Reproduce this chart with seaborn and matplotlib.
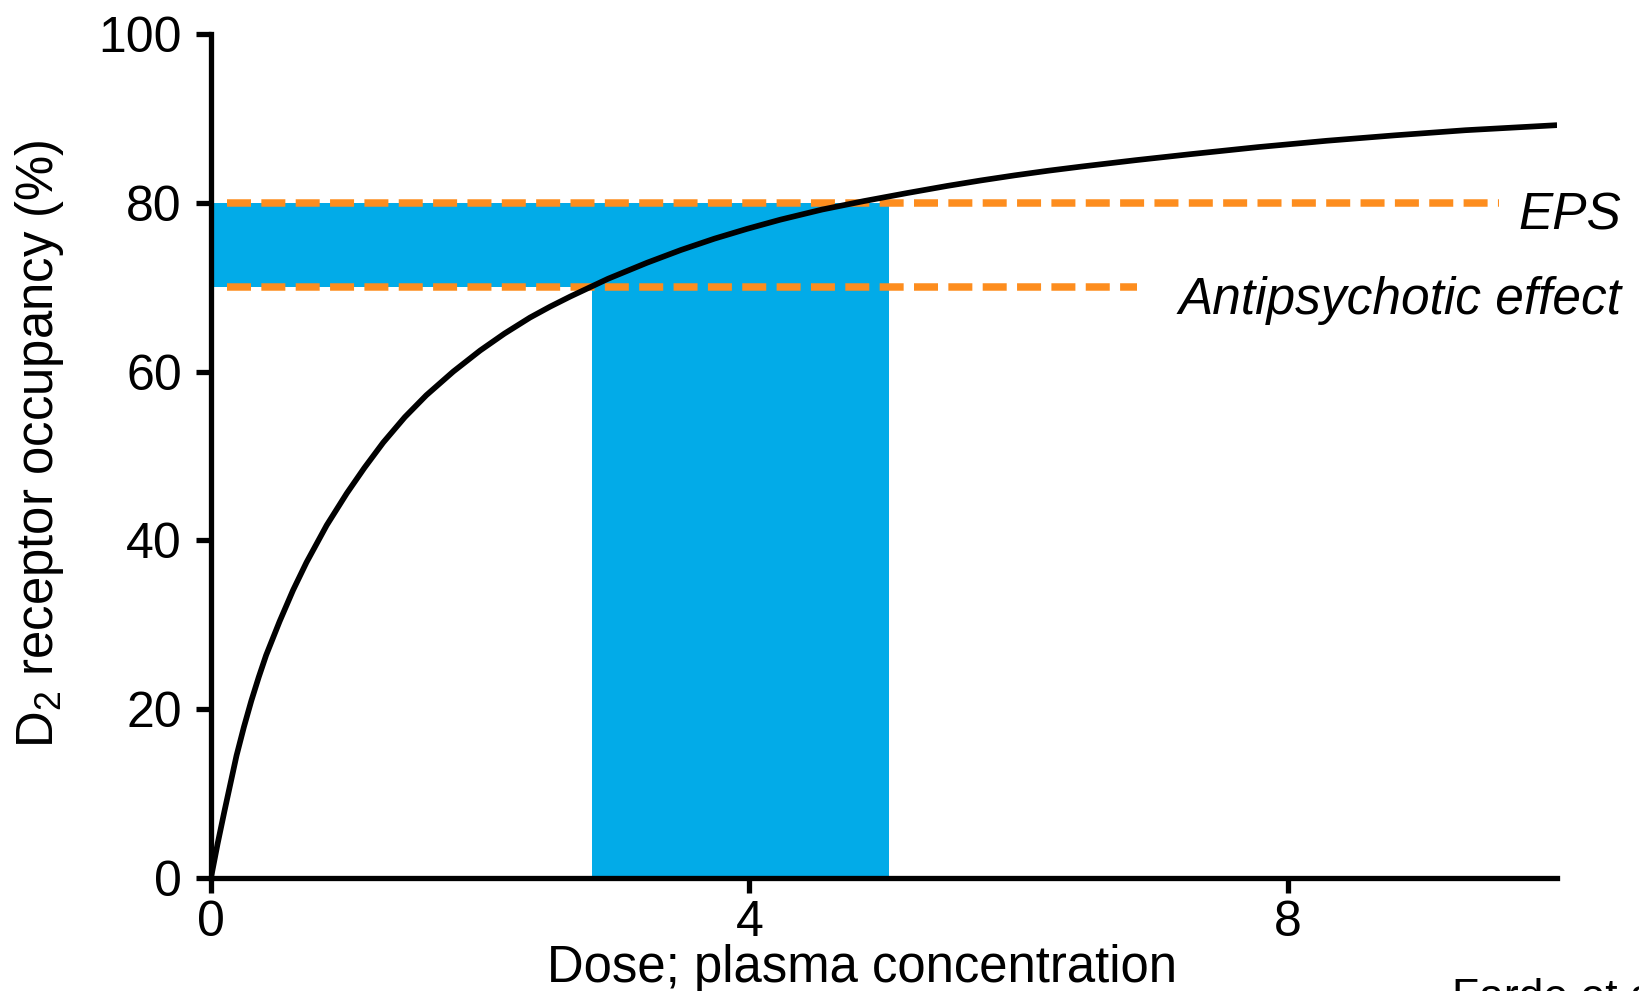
import matplotlib
matplotlib.use("Agg")
import matplotlib.pyplot as plt
import seaborn as sns
import pandas as pd

# ---- data ----
dose = [0, 0.05, 0.10, 0.145, 0.19, 0.245, 0.30, 0.355, 0.41, 0.46, 0.51, 0.61,
        0.71, 0.86, 1.01, 1.14, 1.28, 1.44, 1.60, 1.80, 2.00, 2.18, 2.37, 2.52,
        2.67, 2.95, 3.24, 3.49, 3.74, 3.98, 4.23, 4.54, 4.85, 5.17, 5.47, 5.72,
        5.97, 6.22, 6.47, 6.87, 7.27, 7.78, 8.29, 8.80, 9.32, 10.0]
occupancy = [0, 4.1, 7.9, 11.2, 14.5, 17.9, 21.0, 23.8, 26.4, 28.4, 30.4, 34.1,
             37.4, 41.8, 45.6, 48.6, 51.6, 54.6, 57.2, 60.0, 62.5, 64.5, 66.4, 67.7,
             68.9, 71.0, 72.9, 74.4, 75.75, 76.9, 78.0, 79.2, 80.2, 81.15, 82.0, 82.65,
             83.25, 83.8, 84.3, 85.05, 85.75, 86.6, 87.35, 88.0, 88.6, 89.2]

thresholds = [80, 70]
threshold_labels = ["EPS", "Antipsychotic effect"]
threshold_x_start = [0.12, 0.12]
threshold_x_end = [9.57, 6.88]

# therapeutic window (shaded)
band_y = [70, 80]           # horizontal band between thresholds
band_x = [0, 5.04]
window_x = [2.83, 5.04]     # dose window
window_y_top = 80

x_ticks = [0, 4, 8]
y_ticks = [0, 20, 40, 60, 80, 100]

BLUE = "#02ABE8"
ORANGE = "#FD8D1E"

sns.set_style("ticks")
plt.rcParams["font.family"] = ["Liberation Sans", "DejaVu Sans"]
plt.rcParams["mathtext.fontset"] = "custom"
plt.rcParams["mathtext.rm"] = "Liberation Sans"
plt.rcParams["mathtext.it"] = "Liberation Sans:italic"
plt.rcParams["text.color"] = "black"
plt.rcParams["axes.labelcolor"] = "black"
plt.rcParams["xtick.color"] = "black"
plt.rcParams["ytick.color"] = "black"

fig = plt.figure(figsize=(16.39, 9.91), dpi=100)
ax = fig.add_axes([0.1287, 0.1140, 0.8213, 0.8517])

# shaded areas
ax.fill_between(band_x, [band_y[0]] * 2, [band_y[1]] * 2, color=BLUE, lw=0, zorder=1)
ax.fill_between(window_x, [0, 0], [window_y_top] * 2, color=BLUE, lw=0, zorder=1)

# threshold dashed lines
for yv, x0, x1 in zip(thresholds, threshold_x_start, threshold_x_end):
    df_t = pd.DataFrame({"x": [x0, x1], "y": [yv, yv]})
    sns.lineplot(data=df_t, x="x", y="y", ax=ax, color=ORANGE, zorder=2)
    ln = ax.lines[-1]
    ln.set_linewidth(5.4)
    ln.set_dashes((3.2, 1.38))

# occupancy curve
df = pd.DataFrame({"dose": dose, "occ": occupancy})
sns.lineplot(data=df, x="dose", y="occ", ax=ax, color="black", zorder=3)
cl = ax.lines[-1]
cl.set_linewidth(4.1)
cl.set_solid_joinstyle("round")
cl.set_solid_capstyle("butt")

# labels for thresholds
for yv, lab in zip(thresholds, threshold_labels):
    ax.text(10.48, yv - 3.2, lab, ha="right", va="baseline", fontsize=37,
            style="italic", color="black", clip_on=False)

ax.set_xlim(0, 10)
ax.set_ylim(0, 100)
ax.set_xticks(x_ticks)
ax.set_yticks(y_ticks)
ax.set_xticklabels([str(t) for t in x_ticks])
ax.set_yticklabels([str(t) for t in y_ticks])

for side in ["top", "right"]:
    ax.spines[side].set_visible(False)
for side in ["left", "bottom"]:
    ax.spines[side].set_linewidth(3.8)
    ax.spines[side].set_color("black")
    ax.spines[side].set_zorder(5)

ax.tick_params(axis="both", which="major", length=11, width=3.8, color="black",
               labelcolor="black", labelsize=36, direction="out")
ax.tick_params(axis="y", pad=10)
ax.tick_params(axis="x", pad=5)

ax.set_xlabel("Dose; plasma concentration", fontsize=36.6, color="black")
ax.set_ylabel("D$_2$ receptor occupancy (%)", fontsize=36.6, color="black")
ax.xaxis.set_label_coords(0.4837, -0.078)
ax.yaxis.set_label_coords(-0.108, 0.515)

fig.text(1452 / 1639, 1 - 978 / 991, "Farde et al.", fontsize=32, ha="left",
         va="top", color="black")

fig.savefig("out.png", dpi=100)
